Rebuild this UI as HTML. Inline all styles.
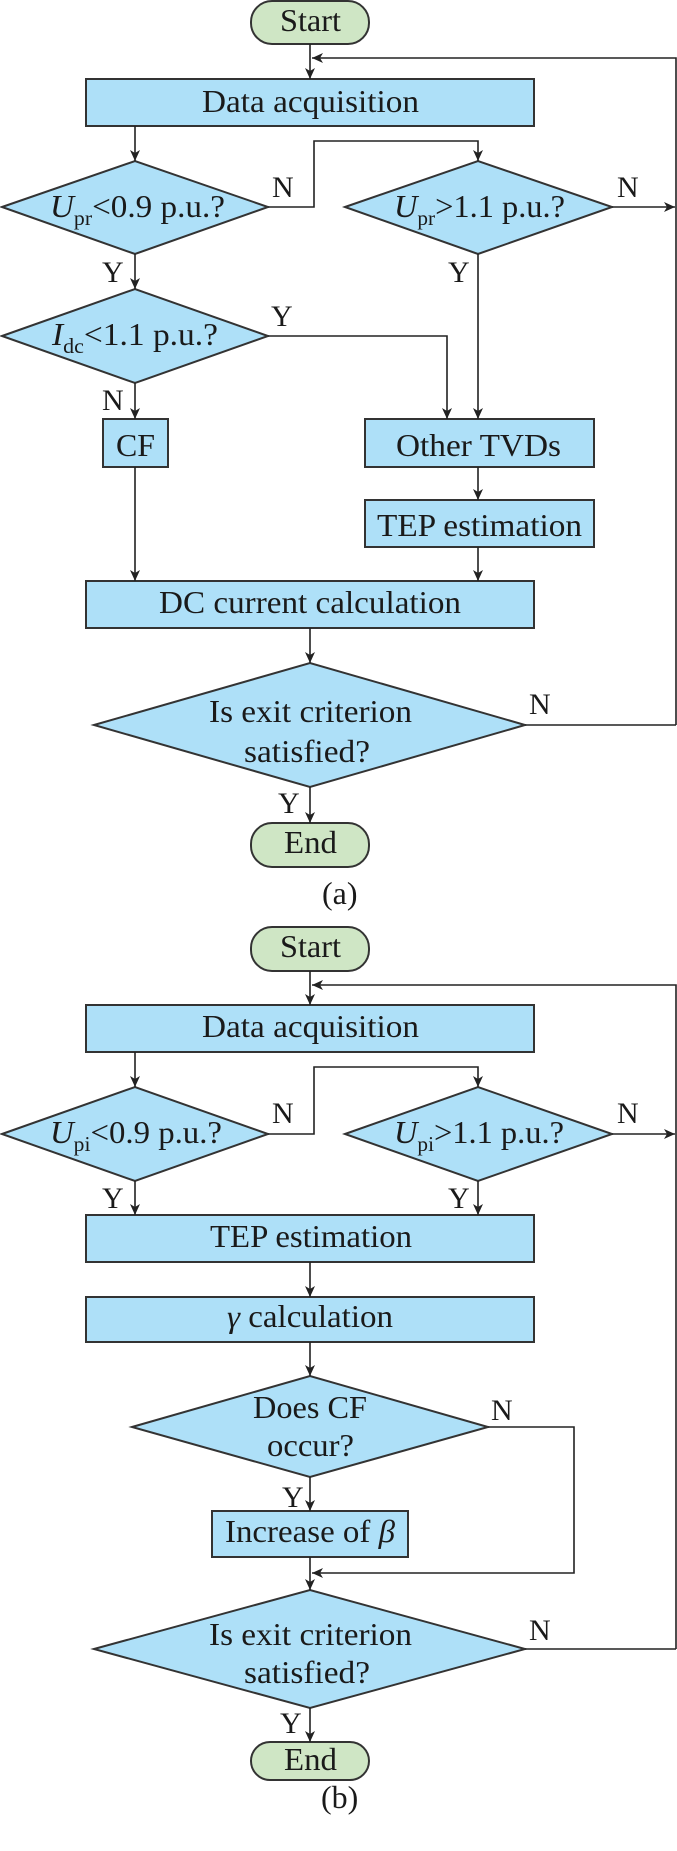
<!DOCTYPE html>
<html><head><meta charset="utf-8"><style>
html,body{margin:0;padding:0;background:#fff}
svg{display:block}
text{font-family:"Liberation Serif",serif;font-size:32px;fill:#1a1a1a}
.i{font-style:italic}
.s{font-size:21px}
.l{font-size:30px}
</style></head><body>
<svg width="677" height="1851" viewBox="0 0 677 1851" xmlns="http://www.w3.org/2000/svg">
<defs>
<marker id="a" markerWidth="12" markerHeight="12" refX="11" refY="5" orient="auto" markerUnits="userSpaceOnUse">
<path d="M0,0 L11,5 L0,10 L3,5 z" fill="#222"/>
</marker>
</defs>
<g stroke="#333" stroke-width="2" fill="#aee0f8">
<rect x="251" y="1" width="118" height="43" rx="21" fill="#cfe6c5"/>
<rect x="86" y="79" width="448" height="47"/>
<polygon points="2,207 135,161 268,207 135,254"/>
<polygon points="345,207 478,161 612,207 478,254"/>
<polygon points="2,336 135,289 268,336 135,383"/>
<rect x="103" y="419" width="65" height="48"/>
<rect x="365" y="419" width="229" height="48"/>
<rect x="365" y="500" width="229" height="47"/>
<rect x="86" y="581" width="448" height="47"/>
<polygon points="94,725 310,663 525,725 310,787"/>
<rect x="251" y="823" width="118" height="44" rx="21" fill="#cfe6c5"/>
<rect x="251" y="927" width="118" height="44" rx="21" fill="#cfe6c5"/>
<rect x="86" y="1005" width="448" height="47"/>
<polygon points="2,1134 135,1087 268,1134 135,1181"/>
<polygon points="345,1134 478,1087 612,1134 478,1181"/>
<rect x="86" y="1215" width="448" height="47"/>
<rect x="86" y="1297" width="448" height="45"/>
<polygon points="132,1427 310,1376 488,1427 310,1477"/>
<rect x="212" y="1511" width="196" height="46"/>
<polygon points="94,1649 310,1590 525,1649 310,1708"/>
<rect x="251" y="1742" width="118" height="38" rx="19" fill="#cfe6c5"/>
</g>
<g stroke="#222" stroke-width="1.6" fill="none" marker-end="url(#a)">
<path d="M310,44 V79"/>
<path d="M676,725 V58 H312"/>
<path d="M135,126 V161"/>
<path d="M268,207 H314 V141 H478 V161"/>
<path d="M612,207 H675"/>
<path d="M135,254 V289"/>
<path d="M135,383 V419"/>
<path d="M268,336 H447 V419"/>
<path d="M478,254 V419"/>
<path d="M478,467 V500"/>
<path d="M135,467 V581"/>
<path d="M478,547 V581"/>
<path d="M310,628 V663"/>
<path d="M525,725 H676" marker-end="none"/>
<path d="M310,787 V823"/>
<path d="M310,971 V1005"/>
<path d="M676,1649 V985 H312"/>
<path d="M135,1052 V1087"/>
<path d="M268,1134 H314 V1067 H478 V1087"/>
<path d="M612,1134 H675"/>
<path d="M135,1181 V1215"/>
<path d="M478,1181 V1215"/>
<path d="M310,1262 V1297"/>
<path d="M310,1342 V1376"/>
<path d="M310,1477 V1511"/>
<path d="M310,1557 V1590"/>
<path d="M488,1427 H574 V1573 H312"/>
<path d="M525,1649 H676" marker-end="none"/>
<path d="M310,1708 V1742"/>
</g>
<g>
<text x="280" y="31" textLength="61" lengthAdjust="spacingAndGlyphs">Start</text>
<text x="202" y="112" textLength="217" lengthAdjust="spacingAndGlyphs">Data acquisition</text>
<text x="50" y="217" textLength="175" lengthAdjust="spacingAndGlyphs"><tspan class="i">U</tspan><tspan class="s" dy="8">pr</tspan><tspan dy="-8">&lt;0.9 p.u.?</tspan></text>
<text x="394" y="217" textLength="171" lengthAdjust="spacingAndGlyphs"><tspan class="i">U</tspan><tspan class="s" dy="8">pr</tspan><tspan dy="-8">&gt;1.1 p.u.?</tspan></text>
<text x="52" y="345" textLength="166" lengthAdjust="spacingAndGlyphs"><tspan class="i">I</tspan><tspan class="s" dy="8">dc</tspan><tspan dy="-8">&lt;1.1 p.u.?</tspan></text>
<text class="l" x="272" y="197">N</text>
<text class="l" x="617" y="197">N</text>
<text class="l" x="102" y="282">Y</text>
<text class="l" x="448" y="282">Y</text>
<text class="l" x="271" y="326">Y</text>
<text class="l" x="102" y="410">N</text>
<text x="116" y="456" textLength="39" lengthAdjust="spacingAndGlyphs">CF</text>
<text x="396" y="456" textLength="165" lengthAdjust="spacingAndGlyphs">Other TVDs</text>
<text x="377" y="536" textLength="205" lengthAdjust="spacingAndGlyphs">TEP estimation</text>
<text x="159" y="613" textLength="302" lengthAdjust="spacingAndGlyphs">DC current calculation</text>
<text x="209" y="722" textLength="203" lengthAdjust="spacingAndGlyphs">Is exit criterion</text>
<text x="244" y="762" textLength="126" lengthAdjust="spacingAndGlyphs">satisfied?</text>
<text class="l" x="529" y="714">N</text>
<text class="l" x="278" y="813">Y</text>
<text x="284" y="853" textLength="53" lengthAdjust="spacingAndGlyphs">End</text>
<text x="322" y="904">(a)</text>
<text x="280" y="957" textLength="61" lengthAdjust="spacingAndGlyphs">Start</text>
<text x="202" y="1037" textLength="217" lengthAdjust="spacingAndGlyphs">Data acquisition</text>
<text x="50" y="1143" textLength="172" lengthAdjust="spacingAndGlyphs"><tspan class="i">U</tspan><tspan class="s" dy="8">pi</tspan><tspan dy="-8">&lt;0.9 p.u.?</tspan></text>
<text x="394" y="1143" textLength="170" lengthAdjust="spacingAndGlyphs"><tspan class="i">U</tspan><tspan class="s" dy="8">pi</tspan><tspan dy="-8">&gt;1.1 p.u.?</tspan></text>
<text class="l" x="272" y="1123">N</text>
<text class="l" x="617" y="1123">N</text>
<text class="l" x="102" y="1208">Y</text>
<text class="l" x="448" y="1208">Y</text>
<text x="210" y="1247" textLength="202" lengthAdjust="spacingAndGlyphs">TEP estimation</text>
<text x="227" y="1327" textLength="166" lengthAdjust="spacingAndGlyphs"><tspan class="i">γ</tspan> calculation</text>
<text x="253" y="1418" textLength="114" lengthAdjust="spacingAndGlyphs">Does CF</text>
<text x="267" y="1456" textLength="87" lengthAdjust="spacingAndGlyphs">occur?</text>
<text class="l" x="491" y="1420">N</text>
<text class="l" x="282" y="1507">Y</text>
<text x="225" y="1542" textLength="170" lengthAdjust="spacingAndGlyphs">Increase of <tspan class="i">β</tspan></text>
<text x="209" y="1645" textLength="203" lengthAdjust="spacingAndGlyphs">Is exit criterion</text>
<text x="244" y="1683" textLength="126" lengthAdjust="spacingAndGlyphs">satisfied?</text>
<text class="l" x="529" y="1640">N</text>
<text class="l" x="280" y="1733">Y</text>
<text x="284" y="1770" textLength="53" lengthAdjust="spacingAndGlyphs">End</text>
<text x="321" y="1808">(b)</text>
</g>
</svg>
</body></html>
